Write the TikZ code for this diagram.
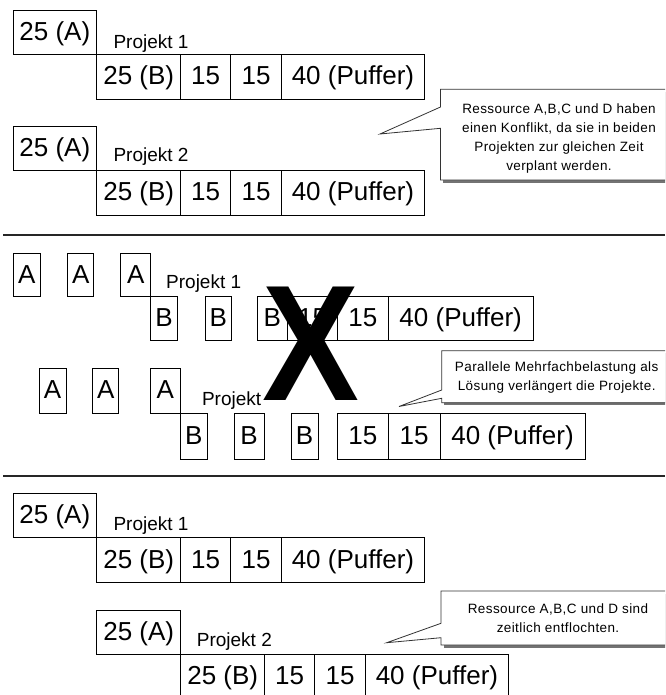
\documentclass[tikz,border=0pt]{standalone}
\usepackage{fontspec}
\setmainfont{Liberation Sans}
\newfontfamily\calloutface[LetterSpace=3]{Liberation Sans}
\newcommand\boxtextfont{\fontsize{26}{30}\selectfont}
\newcommand\projfont{\fontsize{19}{22}\selectfont}
\newcommand\calloutfont{\calloutface\fontsize{13.5}{19}\selectfont}
\newcommand\crossfont{\fontsize{165}{165}\selectfont\bfseries}

\begin{document}
\begin{tikzpicture}[x=1pt,y=-1pt,
  cell/.style={draw=black, line width=0.9pt, anchor=north west, outer sep=0pt,
    inner sep=0pt, font=\boxtextfont, text height=19pt, text depth=3pt,
    minimum height=44.5pt},
  projlabel/.style={anchor=base west, inner sep=0pt, font=\projfont},
  callout/.style={fill=white, draw=black!80, line width=0.8pt, line join=miter},
  calloutshadow/.style={fill=black!55},
  calltext/.style={font=\calloutfont, align=center, inner sep=0pt},
  separator/.style={draw=black!85, line width=1.6pt}]

\useasboundingbox (0,0) rectangle (665,695);
\clip (0,0) rectangle (665,695);
\fill[white] (0,0) rectangle (665,695);

% ---------- first schedule: both projects start together ----------
\node[cell, minimum width=83.7pt] (s1pa) at (13,10) {25 (A)};
\node[cell, minimum width=84pt] (s1pb) at (s1pa.south east) {25 (B)};
\node[cell, minimum width=50pt] (s1pc) at (s1pb.north east) {15};
\node[cell, minimum width=51pt] (s1pd) at (s1pc.north east) {15};
\node[cell, minimum width=142.5pt] (s1pe) at (s1pd.north east) {40 (Puffer)};
\node[projlabel] (s1pl) at (113.3,48.3) {Projekt 1};

\node[cell, minimum width=83.7pt] (s1qa) at (13,126) {25 (A)};
\node[cell, minimum width=84pt] (s1qb) at (s1qa.south east) {25 (B)};
\node[cell, minimum width=50pt] (s1qc) at (s1qb.north east) {15};
\node[cell, minimum width=51pt] (s1qd) at (s1qc.north east) {15};
\node[cell, minimum width=142.5pt] (s1qe) at (s1qd.north east) {40 (Puffer)};
\node[projlabel] (s1ql) at (113.3,161.7) {Projekt 2};

% callout of the first schedule
\fill[calloutshadow] (443,91.8) rectangle (690,182.6);
\draw[callout] (440.5,89.3) -- (688,89.3) -- (688,180) -- (440.5,180)
  -- (440.5,128.3) -- (380,134) -- (440.5,107) -- cycle;
\node[calltext] (s1note) at (559,138.3)
  {Ressource A,B,C und D haben\\einen Konflikt, da sie in beiden\\Projekten zur gleichen Zeit\\verplant werden.};

\coordinate (sepaL) at (3,234.7);
\coordinate (sepaR) at (665,234.7);
\draw[separator] (sepaL) -- (sepaR);

% ---------- second schedule: resources split in parallel ----------
\node[cell, minimum height=43.4pt, minimum width=26.4pt] (s2pa1) at (13.6,253.3) {A};
\node[cell, minimum height=43.4pt, minimum width=26pt] (s2pa2) at (67.9,253.3) {A};
\node[cell, minimum height=43.4pt, minimum width=30pt] (s2pa3) at (120.7,253.3) {A};
\node[cell, minimum height=43.8pt, minimum width=26.8pt] (s2pb1) at (s2pa3.south east) {B};
\node[cell, minimum height=43.8pt, minimum width=25.6pt] (s2pb2) at (205.4,296.7) {B};
\node[cell, minimum height=43.8pt, minimum width=30.6pt] (s2pb3) at (257,296.7) {B};
\node[cell, minimum height=43.8pt, minimum width=50pt] (s2pc) at (s2pb3.north east) {15};
\node[cell, minimum height=43.8pt, minimum width=50.7pt] (s2pd) at (s2pc.north east) {15};
\node[cell, minimum height=43.8pt, minimum width=144.7pt] (s2pe) at (s2pd.north east) {40 (Puffer)};
\node[projlabel] (s2pl) at (166,288.3) {Projekt 1};

\node[cell, minimum height=45pt, minimum width=26.7pt] (s2qa1) at (39.3,368.3) {A};
\node[cell, minimum height=45pt, minimum width=26pt] (s2qa2) at (92.9,368.3) {A};
\node[cell, minimum height=45pt, minimum width=30.4pt] (s2qa3) at (150,368.3) {A};
\node[cell, minimum height=46pt, minimum width=26.6pt] (s2qb1) at (s2qa3.south east) {B};
\node[cell, minimum height=46pt, minimum width=30.3pt] (s2qb2) at (234,413.3) {B};
\node[cell, minimum height=46pt, minimum width=27pt] (s2qb3) at (291,413.3) {B};
\node[cell, minimum height=46pt, minimum width=50.7pt] (s2qc) at (337.5,413.3) {15};
\node[cell, minimum height=46pt, minimum width=51.8pt] (s2qd) at (s2qc.north east) {15};
\node[cell, minimum height=46pt, minimum width=145pt] (s2qe) at (s2qd.north east) {40 (Puffer)};
\node[projlabel] (s2ql) at (201.8,405) {Projekt};

% the crossed-out mark over the parallel plan
\node[font=\crossfont, inner sep=0pt, xscale=0.88] (cross) at (311,344) {X};

% callout of the second schedule
\fill[calloutshadow] (444.2,353.2) rectangle (690,405.2);
\draw[callout] (441.7,350.7) -- (688,350.7) -- (688,402.7) -- (441.7,402.7)
  -- (441.7,398.3) -- (399,406.5) -- (441.7,390) -- cycle;
\node[calltext] (s2note) at (556.7,377.5)
  {Parallele Mehrfachbelastung als\\Lösung verlängert die Projekte.};

\coordinate (sepbL) at (3,475.7);
\coordinate (sepbR) at (665,475.7);
\draw[separator] (sepbL) -- (sepbR);

% ---------- third schedule: projects staggered in time ----------
\node[cell, minimum width=83.7pt] (s3pa) at (13,493.3) {25 (A)};
\node[cell, minimum width=84pt] (s3pb) at (s3pa.south east) {25 (B)};
\node[cell, minimum width=50pt] (s3pc) at (s3pb.north east) {15};
\node[cell, minimum width=51pt] (s3pd) at (s3pc.north east) {15};
\node[cell, minimum width=142.5pt] (s3pe) at (s3pd.north east) {40 (Puffer)};
\node[projlabel] (s3pl) at (113.3,530.7) {Projekt 1};

\node[cell, minimum width=84pt] (s3qa) at (96.7,610) {25 (A)};
\node[cell, minimum width=84pt] (s3qb) at (s3qa.south east) {25 (B)};
\node[cell, minimum width=50pt] (s3qc) at (s3qb.north east) {15};
\node[cell, minimum width=51pt] (s3qd) at (s3qc.north east) {15};
\node[cell, minimum width=142.5pt] (s3qe) at (s3qd.north east) {40 (Puffer)};
\node[projlabel] (s3ql) at (196.7,646.7) {Projekt 2};

% callout of the third schedule
\fill[calloutshadow] (443.5,593.5) rectangle (690,647.5);
\draw[callout] (441,591) -- (688,591) -- (688,645) -- (441,645)
  -- (441,637.7) -- (386.7,642.7) -- (441,623.3) -- cycle;
\node[calltext] (s3note) at (558,618.3)
  {Ressource A,B,C und D sind\\zeitlich entflochten.};

\end{tikzpicture}
\end{document}
